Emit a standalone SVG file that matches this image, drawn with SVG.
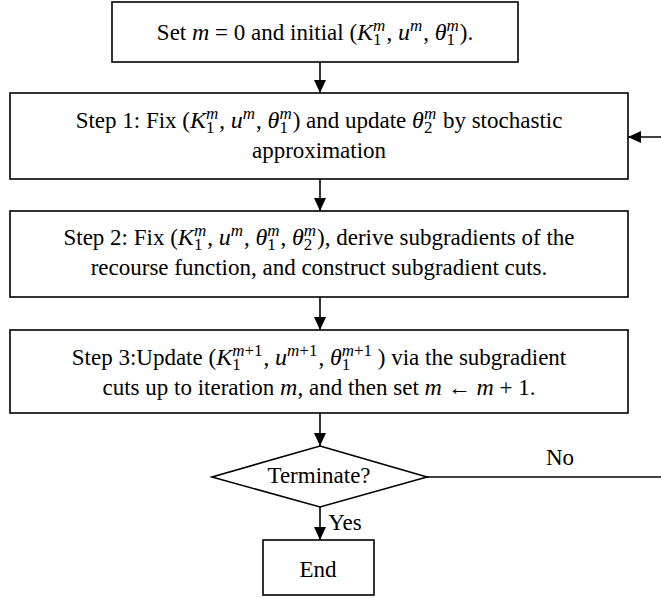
<svg xmlns="http://www.w3.org/2000/svg" width="661" height="598" viewBox="0 0 661 598">
<style>
.box{fill:#fff;stroke:#000;stroke-width:1.6}
.t{font-family:'Liberation Serif','Times New Roman',serif;font-size:23px;fill:#000;text-anchor:middle}
.m{font-style:italic;font-size:24px}
.s{font-size:17px;font-style:normal}
.sm{font-size:17px;font-style:italic}
.c{stroke:#000;stroke-width:1.6;fill:none}
</style>
<defs>
<marker id="ah" markerWidth="13" markerHeight="12" refX="13" refY="6" orient="auto" markerUnits="userSpaceOnUse">
<path d="M0,0 L13,6 L0,12 Z" fill="#000"/>
</marker>
</defs>
<rect width="661" height="598" fill="#fff"/>
<g id="connectors">
<line class="c" x1="320" y1="62" x2="320" y2="93" marker-end="url(#ah)"/>
<line class="c" x1="320" y1="179" x2="320" y2="211" marker-end="url(#ah)"/>
<line class="c" x1="320" y1="297" x2="320" y2="330" marker-end="url(#ah)"/>
<line class="c" x1="320" y1="413" x2="320" y2="446" marker-end="url(#ah)"/>
<line class="c" x1="320" y1="507" x2="320" y2="540" marker-end="url(#ah)"/>
<line class="c" x1="427" y1="477" x2="661" y2="477"/>
<line class="c" x1="661" y1="137" x2="628" y2="137" marker-end="url(#ah)"/>
<text class="t" x="560" y="465" font-family="Liberation Serif, serif">No</text>
<text class="t" x="345" y="530" font-family="Liberation Serif, serif">Yes</text>
</g>
<g id="start">
<rect class="box" x="112" y="2" width="406" height="60"/>
<text class="t" x="315" y="40" font-family="Liberation Serif, serif">Set <tspan class="m">m</tspan> = 0 and initial (<tspan class="m">K</tspan><tspan class="s" dy="5">1</tspan><tspan class="sm" dx="-8.5" dy="-14">m</tspan><tspan dx="1" dy="9">, </tspan><tspan class="m">u</tspan><tspan class="sm" dy="-9">m</tspan><tspan dx="1" dy="9">, </tspan><tspan class="m">θ</tspan><tspan class="s" dy="5">1</tspan><tspan class="sm" dx="-8.5" dy="-14">m</tspan><tspan dx="1" dy="9">).</tspan></text>
</g>
<g id="step1">
<rect class="box" x="10" y="93" width="618" height="86"/>
<text class="t" x="319" y="128" font-family="Liberation Serif, serif">Step 1: Fix (<tspan class="m">K</tspan><tspan class="s" dy="5">1</tspan><tspan class="sm" dx="-8.5" dy="-14">m</tspan><tspan dx="1" dy="9">, </tspan><tspan class="m">u</tspan><tspan class="sm" dy="-9">m</tspan><tspan dx="1" dy="9">, </tspan><tspan class="m">θ</tspan><tspan class="s" dy="5">1</tspan><tspan class="sm" dx="-8.5" dy="-14">m</tspan><tspan dx="1" dy="9">) and update </tspan><tspan class="m">θ</tspan><tspan class="s" dy="5">2</tspan><tspan class="sm" dx="-8.5" dy="-14">m</tspan><tspan dx="1" dy="9"> by stochastic</tspan></text>
<text class="t" x="319" y="158" font-family="Liberation Serif, serif">approximation</text>
</g>
<g id="step2">
<rect class="box" x="10" y="211" width="618" height="86"/>
<text class="t" x="319" y="245" font-family="Liberation Serif, serif">Step 2: Fix (<tspan class="m">K</tspan><tspan class="s" dy="5">1</tspan><tspan class="sm" dx="-8.5" dy="-14">m</tspan><tspan dx="1" dy="9">, </tspan><tspan class="m">u</tspan><tspan class="sm" dy="-9">m</tspan><tspan dx="1" dy="9">, </tspan><tspan class="m">θ</tspan><tspan class="s" dy="5">1</tspan><tspan class="sm" dx="-8.5" dy="-14">m</tspan><tspan dx="1" dy="9">, </tspan><tspan class="m">θ</tspan><tspan class="s" dy="5">2</tspan><tspan class="sm" dx="-8.5" dy="-14">m</tspan><tspan dx="1" dy="9">), derive subgradients of the</tspan></text>
<text class="t" x="319" y="275" font-family="Liberation Serif, serif">recourse function, and construct subgradient cuts.</text>
</g>
<g id="step3">
<rect class="box" x="10" y="330" width="618" height="83"/>
<text class="t" x="319" y="365" font-family="Liberation Serif, serif">Step 3:Update (<tspan class="m">K</tspan><tspan class="s" dy="5">1</tspan><tspan class="sm" dx="-8.5" dy="-14">m</tspan><tspan class="s">+1</tspan><tspan dx="1" dy="9">, </tspan><tspan class="m">u</tspan><tspan class="sm" dy="-9">m</tspan><tspan class="s">+1</tspan><tspan dx="1" dy="9">, </tspan><tspan class="m">θ</tspan><tspan class="s" dy="5">1</tspan><tspan class="sm" dx="-8.5" dy="-14">m</tspan><tspan class="s">+1</tspan><tspan dy="9"> ) via the subgradient</tspan></text>
<text class="t" x="319" y="395" font-family="Liberation Serif, serif">cuts up to iteration <tspan class="m">m</tspan>, and then set <tspan class="m">m</tspan> ← <tspan class="m">m</tspan> + 1.</text>
</g>
<g id="decision">
<polygon class="box" points="320,446 427,477 320,507 212,477"/>
<text class="t" x="319" y="483" font-family="Liberation Serif, serif">Terminate?</text>
</g>
<g id="end">
<rect class="box" x="263" y="540" width="111" height="55"/>
<text class="t" x="318" y="577" font-family="Liberation Serif, serif">End</text>
</g>
</svg>
